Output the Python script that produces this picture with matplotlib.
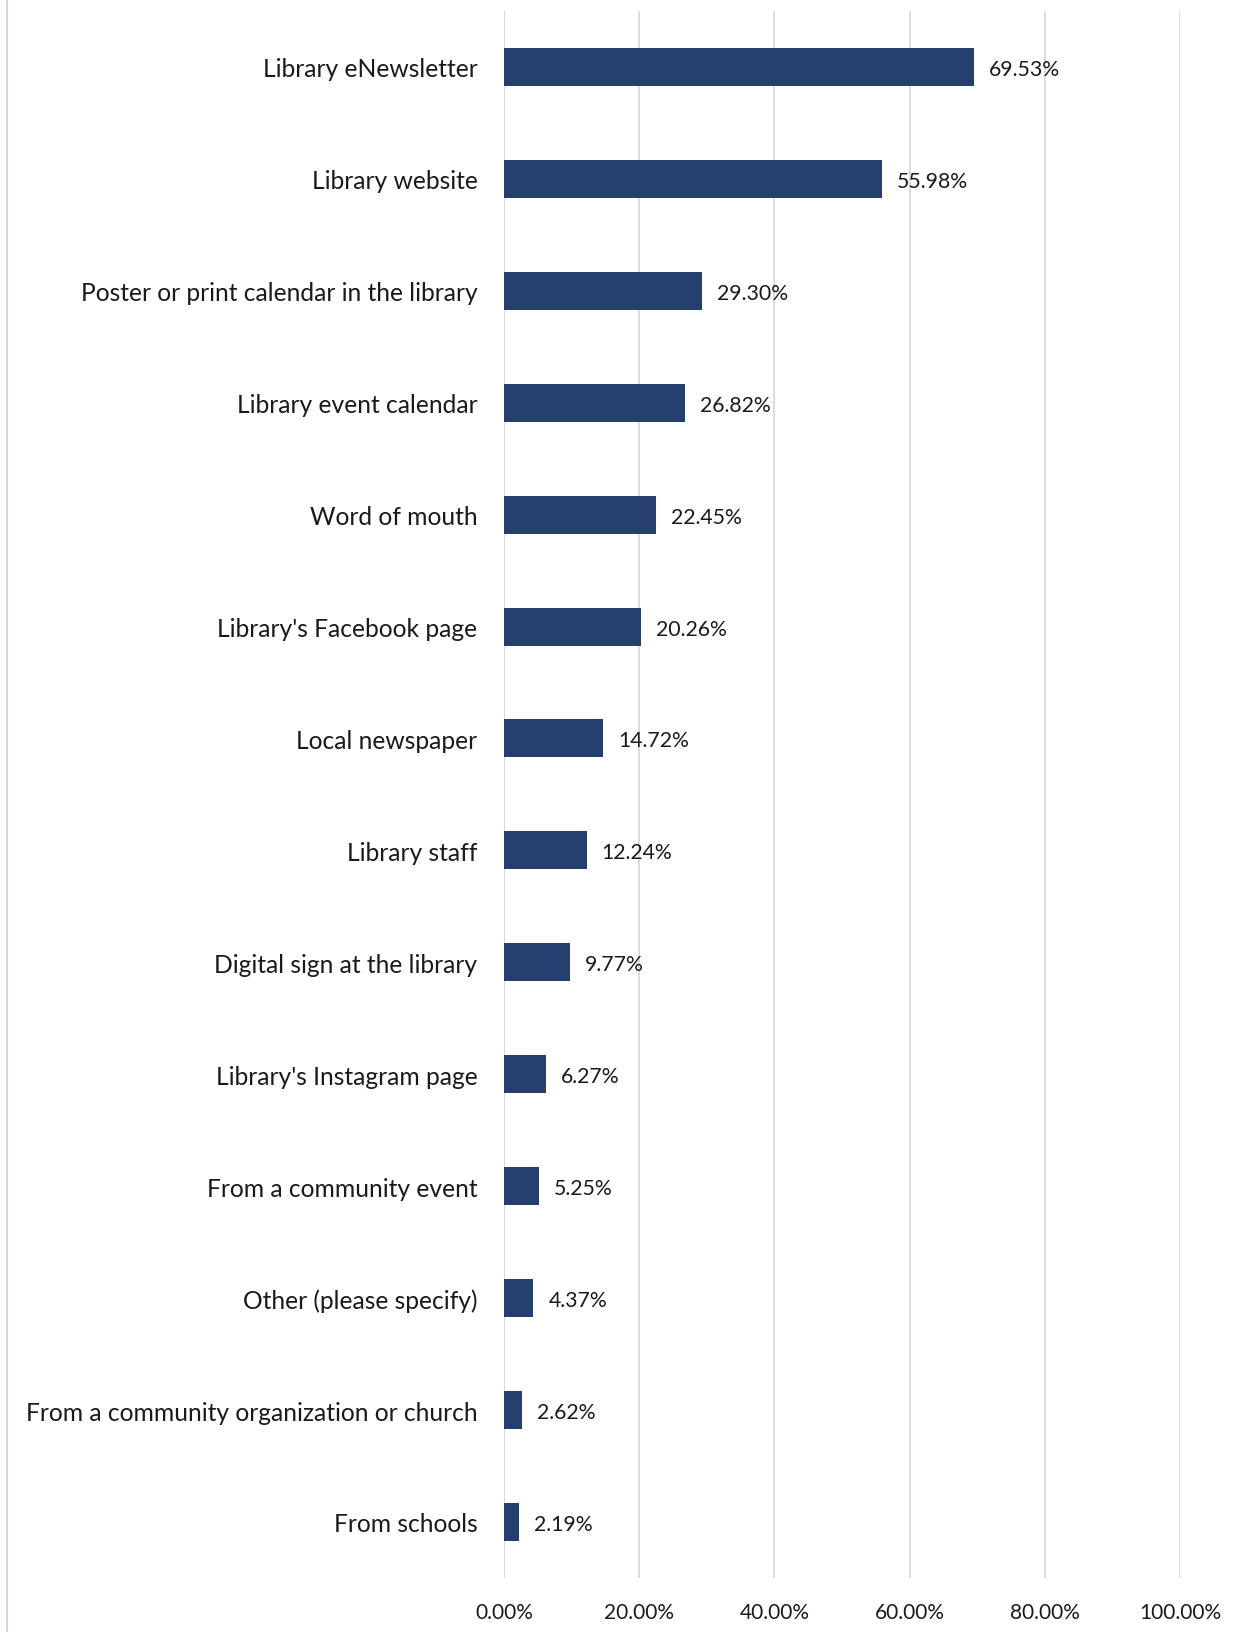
import matplotlib.pyplot as plt
from matplotlib.lines import Line2D

categories = [
    "Library eNewsletter",
    "Library website",
    "Poster or print calendar in the library",
    "Library event calendar",
    "Word of mouth",
    "Library's Facebook page",
    "Local newspaper",
    "Library staff",
    "Digital sign at the library",
    "Library's Instagram page",
    "From a community event",
    "Other (please specify)",
    "From a community organization or church",
    "From schools",
]
values = [69.53, 55.98, 29.30, 26.82, 22.45, 20.26, 14.72, 12.24, 9.77, 6.27, 5.25, 4.37, 2.62, 2.19]
xticks = [0, 20, 40, 60, 80, 100]

plt.rcParams['font.family'] = ['Lato', 'DejaVu Sans']

fig = plt.figure(figsize=(12.48, 16.33), dpi=100)
ax = fig.add_axes([0.4038, 0.0331, 0.9455 - 0.4038, 0.9927 - 0.0331])

ypos = list(range(len(categories)))
ax.barh(ypos, values, height=0.34, color="#243F6E", zorder=3)
for y, v in zip(ypos, values):
    ax.text(v + 2.2, y, f"{v:.2f}%", va="center_baseline", ha="left", fontsize=15.3, color="#1a1a1a", zorder=4)

ax.set_ylim(len(categories) - 0.5, -0.5)
ax.set_xlim(0, 100)
ax.set_yticks(ypos)
ax.set_yticklabels(categories, fontsize=17.7, color="#1a1a1a")
ax.set_xticks(xticks)
ax.set_xticklabels([f"{t:.2f}%" for t in xticks], fontsize=15, color="#1a1a1a")
ax.tick_params(axis="y", length=0, pad=19)
ax.tick_params(axis="x", length=0, pad=17)
ax.grid(axis="x", color="#d9d9d9", linewidth=1.3, zorder=0)
for s in ax.spines.values():
    s.set_visible(False)
ax.axvline(0, color="#d9d9d9", linewidth=1.3, zorder=2)

fig.add_artist(Line2D([7 / 1248, 7 / 1248], [0, 1], color="#d9d9d9", linewidth=1.5))

fig.savefig("out.png", dpi=100)
